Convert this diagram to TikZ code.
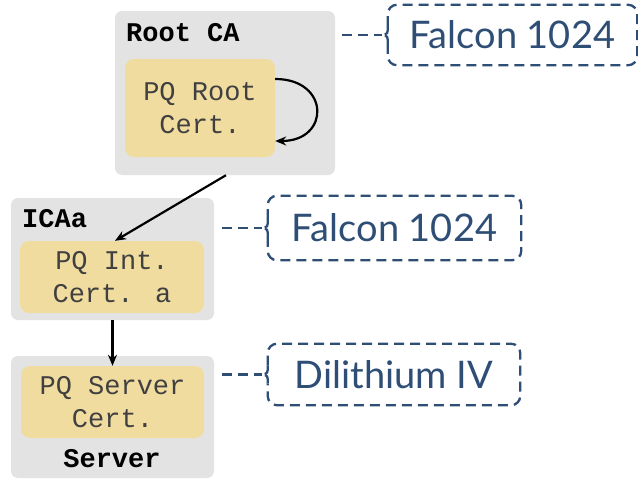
\documentclass[tikz,border=0pt]{standalone}
\usepackage{fontspec}
\setmainfont{Lato}
\newfontfamily\certfont{Liberation Mono}
\usetikzlibrary{arrows.meta}
\definecolor{cagray}{HTML}{E3E3E3}
\definecolor{certyellow}{HTML}{F1DCA0}
\definecolor{algblue}{HTML}{2E4E76}
\definecolor{certtext}{HTML}{404040}

% dashed outline with a small brace point on the left side of node #1
\newcommand\algoutline[1]{%
  \draw[tie, rounded corners=9pt] ([yshift=9pt]#1.west) -- (#1.north west) -- (#1.north east)
    -- (#1.south east) -- (#1.south west) -- ([yshift=-9pt]#1.west);
  \draw[tie] ([yshift=9pt]#1.west) .. controls ([yshift=1pt]#1.west) .. ([xshift=-6pt]#1.west)
    .. controls ([yshift=-1pt]#1.west) .. ([yshift=-9pt]#1.west);
}

\begin{document}
\begin{tikzpicture}[x=1pt,y=-1pt,
  entity/.style={fill=cagray, rounded corners=7pt, inner sep=0pt},
  cert/.style={fill=certyellow, rounded corners=9pt, inner sep=0pt, align=center,
    font=\certfont\fontsize{27}{33}\selectfont, text=certtext},
  title/.style={font=\certfont\bfseries\fontsize{27}{30}\selectfont, text=black, inner sep=0pt},
  alg/.style={font=\fontsize{38}{42}\selectfont, text=algblue, inner sep=0pt},
  link/.style={draw=black, line width=2.2pt, -{Stealth[length=11pt,width=9pt]}},
  tie/.style={draw=algblue, line width=2.3pt, dash pattern=on 10pt off 6pt},
]
\useasboundingbox (0,0) rectangle (638,479);

% Root CA
\node[entity, minimum width=220pt, minimum height=164pt] (root) at (225,93) {};
\node[cert, minimum width=150pt, minimum height=98pt] (rootcert) at (200,108) {PQ Root\\Cert.};
\node[title, anchor=west] (roottitle) at (126,33) {Root CA};

% Intermediate CA
\node[entity, minimum width=203pt, minimum height=122pt] (ica) at (112.5,259) {};
\node[cert, minimum width=184pt, minimum height=72pt] (icacert) at (112,277) {PQ Int.\\Cert. a};
\node[title, anchor=west] (icatitle) at (22,219) {ICAa};

% Server
\node[entity, minimum width=203pt, minimum height=122pt] (srv) at (112.5,417) {};
\node[cert, minimum width=183pt, minimum height=72pt] (srvcert) at (112.5,402) {PQ Server\\Cert.};
\node[title] (srvtitle) at (112,459) {Server};

% chain of trust
\draw[link] ([yshift=29pt]rootcert.east) .. controls +(55,0) and +(55,0) .. ([yshift=-33pt]rootcert.east);
\draw[link] ([xshift=1pt]root.south) -- ([xshift=3pt]icacert.north);
\draw[link] (ica.south) -- (srvcert.north);

% signature algorithms
\node[alg, minimum width=249pt, minimum height=60pt] (alg1) at (512.5,35) {Falcon 1024};
\node[alg, minimum width=253pt, minimum height=64pt] (alg2) at (394.5,228) {Falcon 1024};
\node[alg, minimum width=252pt, minimum height=61pt] (alg3) at (394,374.5) {Dilithium IV};
\algoutline{alg1}
\algoutline{alg2}
\algoutline{alg3}
\draw[tie] ([xshift=7pt]root.east |- alg1.west) -- ([xshift=-6pt]alg1.west);
\draw[tie] ([xshift=8pt]ica.east |- alg2.west) -- ([xshift=-6pt]alg2.west);
\draw[tie] ([xshift=8pt]srv.east |- alg3.west) -- ([xshift=-6pt]alg3.west);
\end{tikzpicture}
\end{document}
